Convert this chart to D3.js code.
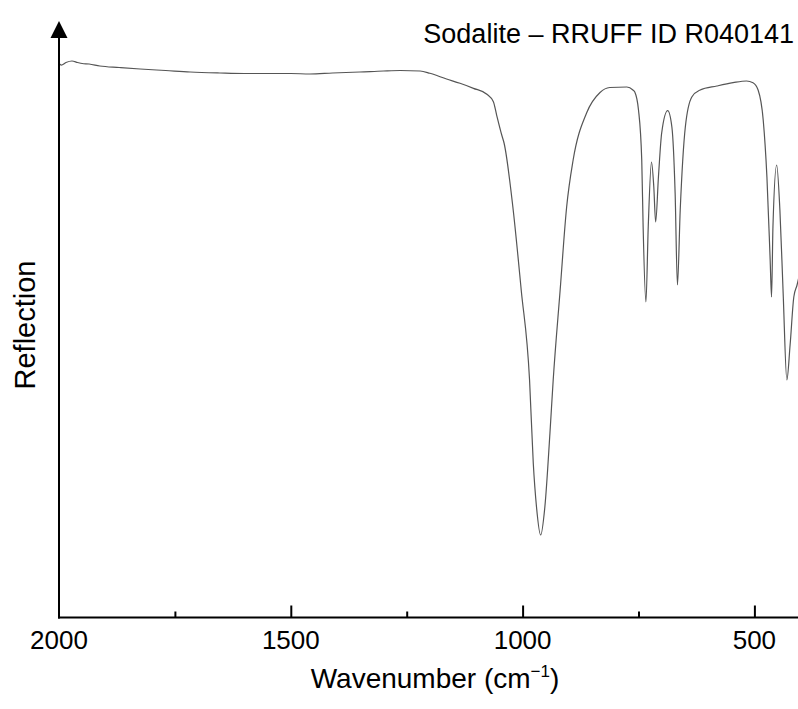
<!DOCTYPE html>
<html>
<head>
<meta charset="utf-8">
<script src="https://cdn.jsdelivr.net/npm/d3@7"></script>
<style>
    body { margin: 0; background: #fff; }
    text { font-family: "Liberation Sans", Arial, sans-serif; fill: #000; }
</style>
</head>
<body>
<div id="chart"></div>
<script>
//Width and height
var width = 798;
var height = 709;

//Spectrum data, wavenumber (cm-1) and relative reflection
var wavenumber = [2000, 1995, 1985, 1972, 1960, 1950, 1935, 1912, 1870, 1825, 1770, 1717, 1653, 1600, 1566, 1500,
    1459, 1410, 1351, 1300, 1264, 1221, 1200, 1164, 1135, 1106, 1077, 1063, 1056, 1045, 1040, 1021, 1003,
    985, 977, 970, 961, 952, 941, 934, 919, 905, 891, 862, 833, 812, 775, 762, 758, 750, 743, 740, 734,
    729, 722, 717, 713, 707, 700, 687, 678, 671, 666, 660, 649, 635, 617, 581, 546, 517, 503, 492, 481,
    473, 466, 463, 460, 452, 445, 438, 430, 423, 415, 408, 404];
var reflection = [95.96, 95.67, 96.11, 96.37, 96.11, 95.93, 95.85, 95.50, 95.24, 94.98, 94.72, 94.46, 94.29, 94.20, 94.20, 94.20,
    94.12, 94.29, 94.46, 94.64, 94.72, 94.64, 94.24, 93.25, 92.51, 91.64, 90.61, 89.33, 87.02, 83.56, 82.18, 71.11, 56.75,
    41.18, 26.82, 19.20, 14.36, 19.20, 32.01, 41.18, 56.75, 71.11, 79.24, 87.37, 90.92, 91.78, 91.87, 91.35, 91.00, 87.89, 79.24, 67.65, 54.67,
    67.65, 78.89, 74.57, 68.51, 76.30, 83.91, 87.77, 84.95, 73.53, 57.61, 70.59, 84.95, 90.14, 91.35, 92.04, 92.61, 92.91, 92.61, 91.35, 86.16,
    76.30, 61.94, 55.54, 67.65, 78.37, 70.59, 56.23, 41.18, 47.23, 55.54, 57.61, 59.0];

//Tick labels
var majorTicks = [2000, 1500, 1000, 500];
var minorTicks = [1750, 1250, 750];

var title = "Sodalite \u2013 RRUFF ID R040141";
var yTitle = "Reflection";

var data = wavenumber.map(function (d, i) { return { wn: d, r: reflection[i] }; });

//Scales (wavenumber decreases to the right)
var x = d3.scaleLinear().domain([2000, 500]).range([59, 754.4]);
var y = d3.scaleLinear().domain([0, 100]).range([618, 40]);

var svg = d3.select("#chart")
    .append("svg")
    .attr("width", width)
    .attr("height", height);

//Spectrum line
var line = d3.line()
    .x(function (d) { return x(d.wn); })
    .y(function (d) { return y(d.r); })
    .curve(d3.curveMonotoneX);

svg.append("path")
    .datum(data)
    .attr("d", line)
    .attr("fill", "none")
    .attr("stroke", "#555")
    .attr("stroke-width", 1.2);

//X axis, ticks pointing up into the plot
var xAxis = svg.append("g")
    .attr("transform", "translate(0,617.5)")
    .call(d3.axisBottom(x).tickValues(majorTicks.slice(1)).tickSize(-12).tickFormat(""));
xAxis.select(".domain").remove();
xAxis.selectAll("line").attr("stroke", "#000").attr("stroke-width", 2);

var xMinor = svg.append("g")
    .attr("transform", "translate(0,617.5)")
    .call(d3.axisBottom(x).tickValues(minorTicks).tickSize(-6).tickFormat(""));
xMinor.select(".domain").remove();
xMinor.selectAll("line").attr("stroke", "#000").attr("stroke-width", 2);

svg.append("line")
    .attr("x1", x(2000) - 1).attr("x2", width)
    .attr("y1", 617.5).attr("y2", 617.5)
    .attr("stroke", "#000").attr("stroke-width", 2);

//Tick labels
svg.selectAll(".tlabel")
    .data(majorTicks)
    .enter()
    .append("text")
    .attr("class", "tlabel")
    .attr("x", function (d) { return x(d); })
    .attr("y", 649)
    .attr("text-anchor", "middle")
    .style("font-size", "26px")
    .text(function (d) { return d; });

//Y axis with arrow
svg.append("line")
    .attr("x1", x(2000)).attr("x2", x(2000))
    .attr("y1", 36).attr("y2", 618.5)
    .attr("stroke", "#000").attr("stroke-width", 2);

svg.append("path")
    .attr("d", d3.line()([[x(2000), 21], [x(2000) - 8.5, 38], [x(2000) + 8.5, 38]]) + "Z")
    .attr("fill", "#000");

//Axis titles
var xl = svg.append("text")
    .attr("x", 435)
    .attr("y", 688)
    .attr("text-anchor", "middle")
    .style("font-size", "28px");
xl.append("tspan").text("Wavenumber (cm");
xl.append("tspan").attr("dy", -11).style("font-size", "17px").text("\u22121");
xl.append("tspan").attr("dy", 11).text(")");

svg.append("text")
    .attr("transform", "translate(35,325) rotate(-90)")
    .attr("text-anchor", "middle")
    .style("font-size", "29px")
    .text(yTitle);

svg.append("text")
    .attr("x", 794)
    .attr("y", 43)
    .attr("text-anchor", "end")
    .style("font-size", "27px")
    .text(title);
</script>
</body>
</html>
